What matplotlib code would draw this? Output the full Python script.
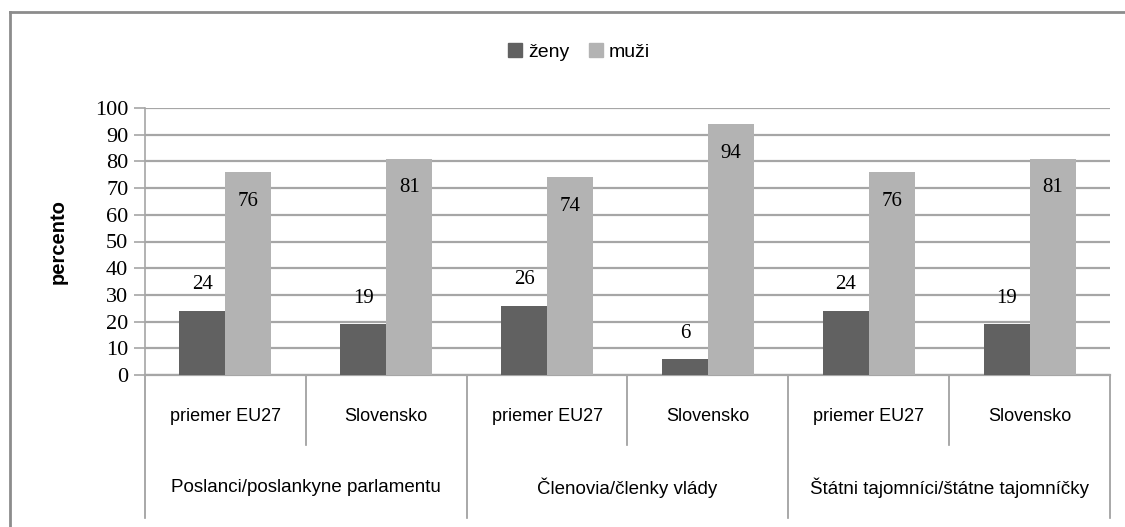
import matplotlib.pyplot as plt
from matplotlib.lines import Line2D
from matplotlib.patches import Patch
import matplotlib.transforms as mtransforms

# data
kategorie = ['priemer EU27', 'Slovensko', 'priemer EU27', 'Slovensko', 'priemer EU27', 'Slovensko']
skupiny = ['Poslanci/poslankyne parlamentu', 'Členovia/členky vlády', 'Štátni tajomníci/štátne tajomníčky']
zeny = [24, 19, 26, 6, 24, 19]
muzi = [76, 81, 74, 94, 76, 81]

c_zeny = '#616161'
c_muzi = '#b3b3b3'
grid_c = '#a6a6a6'
sans = ['Liberation Sans', 'DejaVu Sans']
serif = ['Liberation Serif', 'DejaVu Serif']

fig = plt.figure(figsize=(11.25, 5.27), dpi=100)
ax = fig.add_axes([145 / 1125, 152 / 527, 965 / 1125, 267 / 527])

x = list(range(len(kategorie)))
w = 0.286
ax.bar([i - w / 2 for i in x], zeny, w, color=c_zeny, zorder=3)
ax.bar([i + w / 2 for i in x], muzi, w, color=c_muzi, zorder=3)

for i in x:
    ax.annotate(str(zeny[i]), (i - w / 2, zeny[i]), xytext=(0, 18.7), textcoords='offset points',
                ha='center', va='center', fontsize=15, family=serif, color='black')
    ax.annotate(str(muzi[i]), (i + w / 2, muzi[i]), xytext=(0, -20.9), textcoords='offset points',
                ha='center', va='center', fontsize=15, family=serif, color='black')

ax.set_xlim(-0.5, len(kategorie) - 0.5)
ax.set_ylim(0, 100)
ax.set_yticks(range(0, 101, 10))
ax.yaxis.grid(True, color=grid_c, lw=1.6, zorder=0)
ax.tick_params(axis='y', length=8, color=grid_c, width=1.2, labelsize=16, pad=4)
for lab in ax.get_yticklabels():
    lab.set_family(serif)
ax.set_xticks([])
for s in ['top', 'right']:
    ax.spines[s].set_visible(False)
ax.spines['left'].set_color(grid_c)
ax.spines['bottom'].set_color(grid_c)
ax.spines['left'].set_linewidth(1.2)
ax.spines['bottom'].set_linewidth(1.6)

ax.set_ylabel('percento', fontsize=14.5, fontweight='bold', family=sans)
ax.yaxis.set_label_coords(-0.08, 0.5)

# category axis with two levels
trans = mtransforms.blended_transform_factory(ax.transData, ax.transAxes)
for i, k in enumerate(kategorie):
    ax.text(i, -0.157, k, transform=trans, ha='center', va='center', fontsize=13, family=sans)
for g, name in enumerate(skupiny):
    ax.text(2 * g + 0.5, -0.423, name, transform=trans, ha='center', va='center', fontsize=13.5, family=sans)
for b in range(len(kategorie) + 1):
    xb = b - 0.5
    y_end = -0.536 if b % 2 == 0 else -0.262
    ax.add_line(Line2D([xb, xb], [0, y_end], transform=trans, color='#999999', lw=1.2, clip_on=False))

# legend
handles = [Patch(color=c_zeny, label='ženy'), Patch(color=c_muzi, label='muži')]
fig.legend(handles=handles, loc='center', bbox_to_anchor=(579 / 1125, 1 - 52 / 527), ncol=2,
           frameon=False, handlelength=0.75, handleheight=0.75, handletextpad=0.3, columnspacing=1.0,
           prop={'family': sans, 'size': 14})

# chart border
fig.add_artist(Line2D([10 / 1125, 10 / 1125], [0, 1 - 12 / 527], transform=fig.transFigure, color='#8c8c8c', lw=2))
fig.add_artist(Line2D([10 / 1125, 1], [1 - 12 / 527, 1 - 12 / 527], transform=fig.transFigure, color='#8c8c8c', lw=2))

fig.savefig('out.png', dpi=100)
